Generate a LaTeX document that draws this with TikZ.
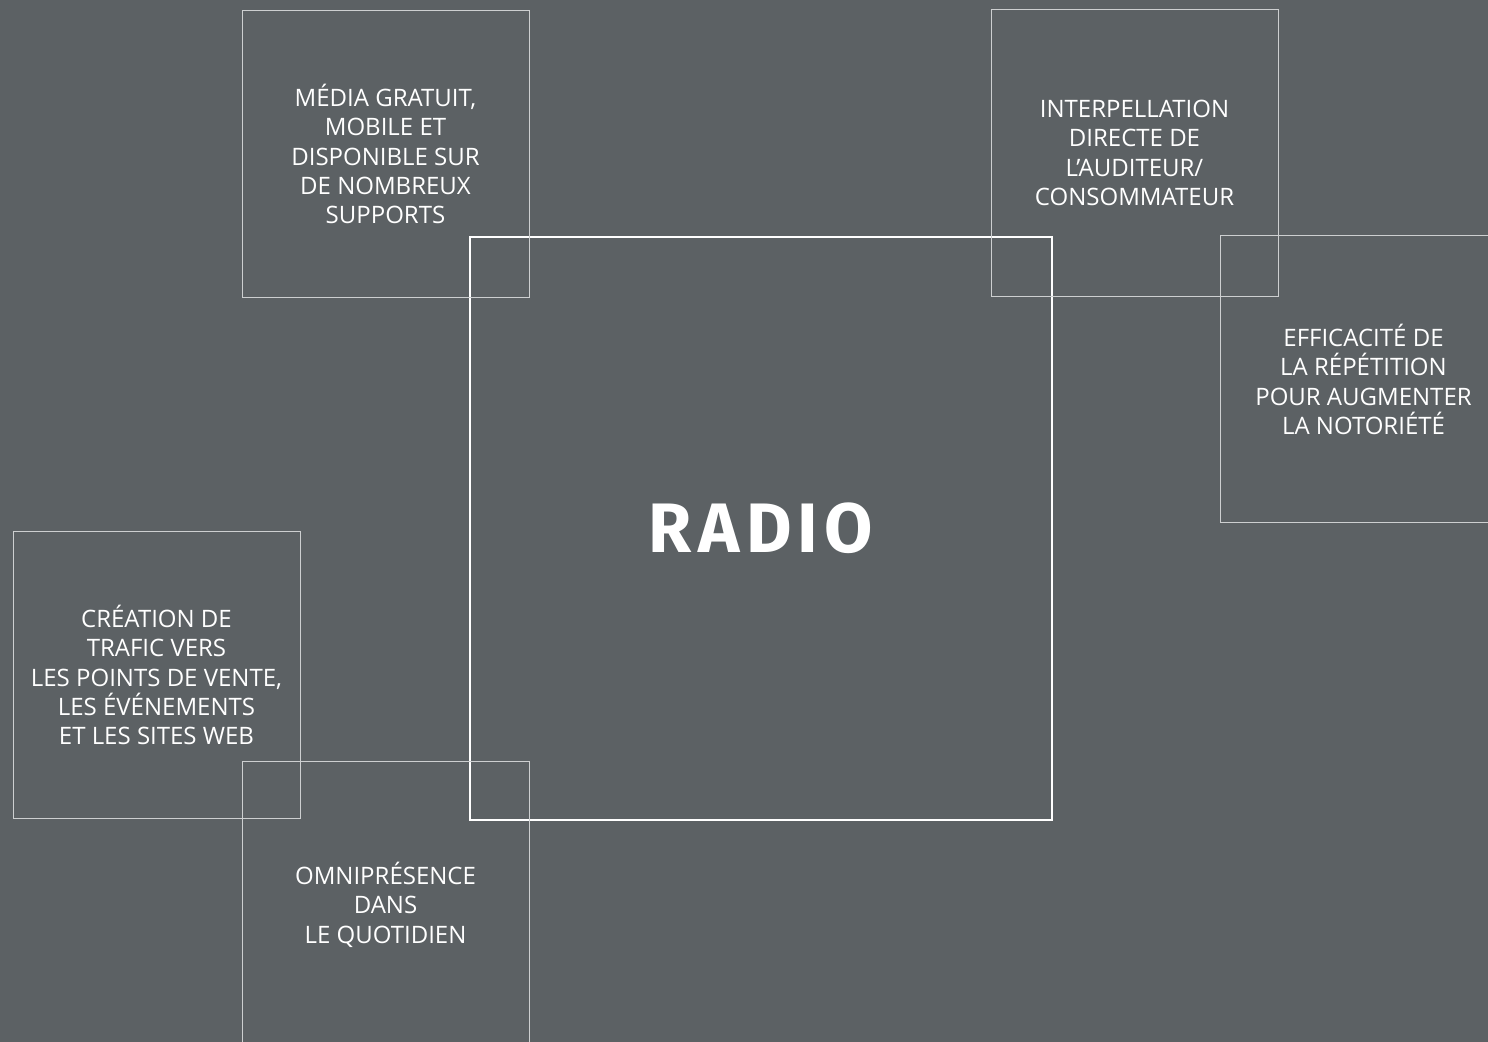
\documentclass[tikz,border=0pt]{standalone}
\usepackage{fontspec}
\setmainfont{Open Sans}
\newfontfamily\radiofont[LetterSpace=9]{Fira Sans}
\definecolor{fond}{RGB}{92,97,100}
\definecolor{trait}{RGB}{205,207,208}
\tikzset{
  atout/.style={draw=trait, line width=0.5pt, minimum width=143.5pt, minimum height=143.5pt,
    align=center, text=white, font=\fontsize{12}{14.7}\selectfont, inner sep=0pt},
  coeur/.style={draw=white, line width=1pt, minimum width=291pt, minimum height=291.5pt,
    text=white, inner sep=0pt}
}
\begin{document}
\begin{tikzpicture}[x=0.5pt, y=-0.5pt]
\fill[fond] (0,0) rectangle (1488,1042);
\clip (0,0) rectangle (1488,1042);
\useasboundingbox (0,0) rectangle (1488,1042);
\node[coeur] (radio) at (761,528.5) {\raisebox{-1.5pt}{\radiofont\bfseries\fontsize{35}{35}\selectfont RADIO}};
\node[atout] (media) at (385.5,154) {MÉDIA GRATUIT,\\MOBILE ET\\DISPONIBLE SUR\\DE NOMBREUX\\SUPPORTS};
\node[atout] (interp) at (1134.5,153) {INTERPELLATION\\DIRECTE DE\\L’AUDITEUR/\\CONSOMMATEUR};
\node[atout] (repet) at (1363.5,379.5) {EFFICACITÉ DE\\LA RÉPÉTITION\\POUR AUGMENTER\\LA NOTORIÉTÉ};
\node[atout] (trafic) at (156.5,675) {CRÉATION DE\\TRAFIC VERS\\LES POINTS DE VENTE,\\LES ÉVÉNEMENTS\\ET LES SITES WEB};
\node[atout] (quotid) at (385.5,904.5) {OMNIPRÉSENCE\\DANS\\LE QUOTIDIEN};
\end{tikzpicture}
\end{document}
